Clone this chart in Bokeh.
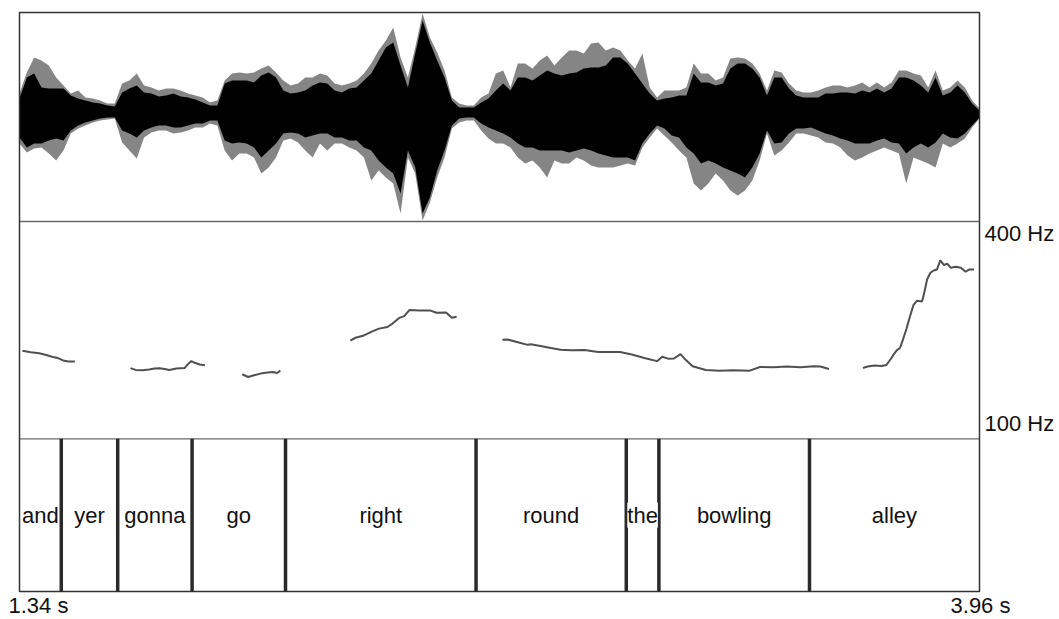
from bokeh.plotting import figure
from bokeh.models import Range1d, LabelSet, ColumnDataSource
from bokeh.core.properties import value
from bokeh.embed import file_html
from bokeh.resources import INLINE

# ---------------- data ----------------
T_START, T_END = 1.34, 3.96

# waveform envelope (amplitude, full scale ~ 1), one frame every 20 ms
env_t = [1.34, 1.36, 1.38, 1.40, 1.42, 1.44, 1.46, 1.48, 1.50, 1.52,
         1.54, 1.56, 1.58, 1.60, 1.62, 1.64, 1.66, 1.68, 1.70, 1.72,
         1.74, 1.76, 1.78, 1.80, 1.82, 1.84, 1.86, 1.88, 1.90, 1.92,
         1.94, 1.96, 1.98, 2.00, 2.02, 2.04, 2.06, 2.08, 2.10, 2.12,
         2.14, 2.16, 2.18, 2.20, 2.22, 2.24, 2.26, 2.28, 2.30, 2.32,
         2.34, 2.36, 2.38, 2.40, 2.42, 2.44, 2.46, 2.48, 2.50, 2.52,
         2.54, 2.56, 2.58, 2.60, 2.62, 2.64, 2.66, 2.68, 2.70, 2.72,
         2.74, 2.76, 2.78, 2.80, 2.82, 2.84, 2.86, 2.88, 2.90, 2.92,
         2.94, 2.96, 2.98, 3.00, 3.02, 3.04, 3.06, 3.08, 3.10, 3.12,
         3.14, 3.16, 3.18, 3.20, 3.22, 3.24, 3.26, 3.28, 3.30, 3.32,
         3.34, 3.36, 3.38, 3.40, 3.42, 3.44, 3.46, 3.48, 3.50, 3.52,
         3.54, 3.56, 3.58, 3.60, 3.62, 3.64, 3.66, 3.68, 3.70, 3.72,
         3.74, 3.76, 3.78, 3.80, 3.82, 3.84, 3.86, 3.88, 3.90, 3.92,
         3.94, 3.96]

peak_top = [0.19, 0.40, 0.55, 0.52, 0.47, 0.35, 0.27, 0.19, 0.22, 0.15,
            0.14, 0.12, 0.09, 0.09, 0.29, 0.32, 0.39, 0.27, 0.25, 0.22,
            0.24, 0.24, 0.22, 0.19, 0.17, 0.15, 0.10, 0.12, 0.32, 0.39,
            0.40, 0.39, 0.40, 0.44, 0.47, 0.40, 0.32, 0.27, 0.29, 0.35,
            0.35, 0.39, 0.37, 0.29, 0.27, 0.29, 0.32, 0.39, 0.49, 0.62,
            0.72, 0.85, 0.55, 0.35, 0.65, 0.99, 0.75, 0.60, 0.42, 0.15,
            0.09, 0.07, 0.07, 0.15, 0.19, 0.39, 0.42, 0.25, 0.49, 0.49,
            0.44, 0.52, 0.57, 0.47, 0.55, 0.62, 0.62, 0.59, 0.69, 0.70,
            0.62, 0.65, 0.62, 0.52, 0.44, 0.59, 0.25, 0.15, 0.22, 0.22,
            0.22, 0.25, 0.49, 0.39, 0.39, 0.32, 0.35, 0.54, 0.55, 0.54,
            0.49, 0.39, 0.22, 0.42, 0.40, 0.29, 0.22, 0.20, 0.20, 0.22,
            0.25, 0.27, 0.27, 0.25, 0.27, 0.30, 0.25, 0.30, 0.25, 0.30,
            0.42, 0.42, 0.39, 0.37, 0.25, 0.42, 0.22, 0.25, 0.32, 0.25,
            0.12, 0.04]

body_top = [0.14, 0.35, 0.39, 0.25, 0.24, 0.24, 0.24, 0.17, 0.14, 0.12,
            0.10, 0.09, 0.07, 0.06, 0.20, 0.24, 0.27, 0.20, 0.19, 0.16,
            0.17, 0.19, 0.16, 0.15, 0.13, 0.10, 0.07, 0.07, 0.29, 0.32,
            0.32, 0.32, 0.30, 0.37, 0.40, 0.35, 0.22, 0.19, 0.20, 0.22,
            0.27, 0.30, 0.29, 0.22, 0.20, 0.24, 0.25, 0.32, 0.39, 0.52,
            0.65, 0.70, 0.47, 0.25, 0.59, 0.92, 0.70, 0.52, 0.35, 0.12,
            0.05, 0.05, 0.05, 0.10, 0.14, 0.22, 0.29, 0.22, 0.35, 0.35,
            0.32, 0.37, 0.42, 0.39, 0.37, 0.39, 0.40, 0.44, 0.45, 0.45,
            0.47, 0.55, 0.55, 0.49, 0.39, 0.29, 0.19, 0.12, 0.14, 0.15,
            0.17, 0.17, 0.39, 0.30, 0.30, 0.27, 0.29, 0.44, 0.49, 0.49,
            0.44, 0.35, 0.17, 0.35, 0.35, 0.24, 0.17, 0.15, 0.15, 0.15,
            0.19, 0.19, 0.20, 0.20, 0.19, 0.22, 0.20, 0.24, 0.20, 0.24,
            0.35, 0.35, 0.32, 0.27, 0.20, 0.35, 0.17, 0.20, 0.27, 0.20,
            0.09, 0.02]

body_bot = [-0.25, -0.35, -0.31, -0.31, -0.28, -0.26, -0.28, -0.18, -0.13, -0.10,
            -0.08, -0.06, -0.05, -0.05, -0.18, -0.21, -0.25, -0.18, -0.15, -0.13,
            -0.13, -0.15, -0.15, -0.13, -0.11, -0.11, -0.08, -0.08, -0.28, -0.31,
            -0.30, -0.31, -0.35, -0.45, -0.38, -0.31, -0.21, -0.20, -0.21, -0.25,
            -0.23, -0.21, -0.21, -0.25, -0.25, -0.28, -0.28, -0.35, -0.38, -0.48,
            -0.55, -0.61, -0.81, -0.38, -0.55, -1.01, -0.85, -0.58, -0.38, -0.13,
            -0.06, -0.05, -0.05, -0.11, -0.15, -0.18, -0.21, -0.25, -0.31, -0.35,
            -0.35, -0.38, -0.38, -0.38, -0.38, -0.40, -0.38, -0.36, -0.38, -0.41,
            -0.43, -0.45, -0.45, -0.45, -0.48, -0.31, -0.21, -0.13, -0.16, -0.23,
            -0.25, -0.35, -0.41, -0.51, -0.48, -0.51, -0.55, -0.58, -0.61, -0.65,
            -0.55, -0.41, -0.18, -0.31, -0.30, -0.21, -0.16, -0.16, -0.15, -0.18,
            -0.21, -0.23, -0.26, -0.28, -0.31, -0.31, -0.31, -0.28, -0.26, -0.30,
            -0.31, -0.41, -0.35, -0.31, -0.35, -0.30, -0.21, -0.25, -0.26, -0.21,
            -0.13, -0.05]

peak_bot = [-0.31, -0.40, -0.36, -0.35, -0.41, -0.48, -0.38, -0.21, -0.16, -0.13,
            -0.10, -0.08, -0.07, -0.06, -0.30, -0.38, -0.46, -0.25, -0.20, -0.18,
            -0.18, -0.21, -0.20, -0.18, -0.15, -0.15, -0.11, -0.13, -0.38, -0.48,
            -0.41, -0.41, -0.45, -0.61, -0.55, -0.45, -0.28, -0.26, -0.30, -0.38,
            -0.45, -0.31, -0.38, -0.31, -0.31, -0.35, -0.38, -0.45, -0.68, -0.58,
            -0.65, -0.71, -1.01, -0.45, -0.61, -1.08, -0.90, -0.65, -0.45, -0.16,
            -0.10, -0.08, -0.08, -0.18, -0.26, -0.31, -0.31, -0.35, -0.45, -0.51,
            -0.48, -0.55, -0.65, -0.48, -0.51, -0.51, -0.45, -0.48, -0.53, -0.55,
            -0.55, -0.55, -0.53, -0.51, -0.53, -0.35, -0.25, -0.16, -0.23, -0.30,
            -0.38, -0.45, -0.71, -0.78, -0.71, -0.61, -0.68, -0.78, -0.83, -0.78,
            -0.68, -0.48, -0.21, -0.43, -0.38, -0.30, -0.21, -0.21, -0.23, -0.25,
            -0.30, -0.31, -0.35, -0.43, -0.48, -0.45, -0.41, -0.38, -0.35, -0.38,
            -0.41, -0.71, -0.45, -0.48, -0.51, -0.55, -0.31, -0.35, -0.31, -0.26,
            -0.15, -0.06]

# pitch contour segments (s, Hz)
f0_seg1_t = [1.348, 1.371, 1.394, 1.413, 1.431, 1.445, 1.459, 1.473, 1.491]
f0_seg1_hz = [221.7, 219.4, 218.0, 215.7, 212.9, 211.5, 208.2, 206.8, 206.8]
f0_seg2_t = [1.643, 1.657, 1.676, 1.694, 1.708, 1.722, 1.736, 1.749, 1.768,
             1.791, 1.800, 1.809, 1.818, 1.832, 1.846]
f0_seg2_hz = [197.5, 195.1, 194.7, 195.6, 197.0, 197.5, 196.5, 195.1, 197.0,
              197.9, 203.1, 207.3, 204.9, 202.6, 201.7]
f0_seg3_t = [1.948, 1.964, 1.980, 1.998, 2.017, 2.031, 2.043, 2.052]
f0_seg3_hz = [189.1, 185.3, 187.7, 190.0, 191.4, 192.3, 190.9, 194.2]
f0_seg4_t = [2.243, 2.257, 2.280, 2.303, 2.321, 2.344, 2.358, 2.377, 2.390,
             2.404, 2.432, 2.460, 2.478, 2.504, 2.520, 2.533]
f0_seg4_hz = [235.7, 239.5, 242.7, 248.3, 252.1, 254.4, 259.1, 267.0, 269.3,
              277.7, 277.3, 277.3, 274.0, 274.5, 267.0, 268.4]
f0_seg5_t = [2.658, 2.672, 2.700, 2.727, 2.735, 2.762, 2.790, 2.817, 2.845,
             2.882, 2.919, 2.979, 3.011, 3.048, 3.080, 3.094, 3.112, 3.126,
             3.144, 3.158, 3.177, 3.213, 3.250, 3.287, 3.333, 3.361, 3.398,
             3.434, 3.471, 3.508, 3.526, 3.549]
f0_seg5_hz = [236.7, 237.1, 233.4, 229.7, 230.4, 228.1, 225.3, 223.0, 222.1,
              222.5, 219.7, 219.7, 216.5, 211.3, 207.2, 213.2, 210.4, 210.9,
              216.9, 209.0, 200.2, 195.0, 194.1, 194.6, 194.1, 199.2, 198.8,
              199.7, 198.8, 200.2, 199.7, 196.4]
f0_seg6_t = [3.642, 3.655, 3.674, 3.692, 3.706, 3.715, 3.724, 3.734, 3.743,
             3.752, 3.761, 3.770, 3.780, 3.789, 3.803, 3.807, 3.817, 3.826,
             3.835, 3.844, 3.853, 3.863, 3.872, 3.881, 3.895, 3.909, 3.922,
             3.932, 3.945]
f0_seg6_hz = [197.8, 199.7, 201.1, 200.6, 202.0, 208.1, 215.1, 222.1, 225.3,
              238.4, 252.3, 268.6, 284.9, 290.5, 289.6, 296.6, 319.9, 329.2,
              332.4, 333.8, 346.4, 339.9, 341.8, 336.2, 337.6, 336.2, 330.6,
              333.8, 333.8]

# word tier
words = ["and", "yer", "gonna", "go", "right", "round", "the", "bowling", "alley"]
word_bounds = [1.34, 1.454, 1.608, 1.811, 2.066, 2.586, 2.996, 3.085, 3.496, 3.96]

PITCH_MIN, PITCH_MAX = 100, 400
WAVE_MIN, WAVE_MAX = -1.09, 1.0
time_labels = ["1.34 s", "3.96 s"]
pitch_labels = ["400 Hz", "100 Hz"]

# ---------------- layout (canvas pixels) ----------------
CANVAS_W, CANVAS_H = 1058, 618
X0_PX, X1_PX = 19, 979                       # left / right edge of the panels
Y_TOP, Y_WAVE, Y_PITCH, Y_BOT = 12, 221, 438.3, 591   # panel edges, top-down

kx = (T_END - T_START) / (X1_PX - X0_PX)
x_range = Range1d(T_START - X0_PX * kx, T_START + (CANVAS_W - X0_PX) * kx)


def y_range_for(v_top, v_bot, px_top, px_bot):
    k = (v_top - v_bot) / (px_bot - px_top)
    return Range1d(v_bot - (CANVAS_H - px_bot) * k, v_top + px_top * k), k


wave_range, kw = y_range_for(WAVE_MAX, WAVE_MIN, Y_TOP, Y_WAVE)
pitch_range, kp = y_range_for(PITCH_MAX, PITCH_MIN, Y_WAVE, Y_PITCH)
tier_range, kt = y_range_for(1.0, 0.0, Y_PITCH, Y_BOT)
TIER_TOP = 1.0 + (Y_PITCH - Y_TOP) * kt      # top edge of the whole box in tier units

FONT = "Liberation Sans"
TXT = "#111111"

p = figure(frame_width=CANVAS_W, frame_height=CANVAS_H,
           x_range=x_range, y_range=tier_range,
           x_axis_location=None, y_axis_location=None,
           output_backend="svg", toolbar_location=None,
           min_border=0)
p.extra_y_ranges = {"wave": wave_range, "pitch": pitch_range}
p.grid.grid_line_color = None
p.outline_line_color = None
p.background_fill_color = "white"
p.border_fill_color = "white"

# waveform
p.varea(x=env_t, y1=peak_bot, y2=peak_top, fill_color="#858585", y_range_name="wave")
p.varea(x=env_t, y1=body_bot, y2=body_top, fill_color="#000000", y_range_name="wave")

# pitch
p.multi_line(xs=[f0_seg1_t, f0_seg2_t, f0_seg3_t, f0_seg4_t, f0_seg5_t, f0_seg6_t],
             ys=[f0_seg1_hz, f0_seg2_hz, f0_seg3_hz, f0_seg4_hz, f0_seg5_hz, f0_seg6_hz],
             line_color="#505050", line_width=2, y_range_name="pitch")

# panel dividers
p.segment(x0=[T_START], y0=[WAVE_MIN], x1=[T_END], y1=[WAVE_MIN],
          line_color="#6a6a6a", line_width=1.3, y_range_name="wave")
p.segment(x0=[T_START], y0=[PITCH_MIN], x1=[T_END], y1=[PITCH_MIN],
          line_color="#6a6a6a", line_width=1.3, y_range_name="pitch")

# outer box
p.quad(left=[T_START], right=[T_END], bottom=[0], top=[TIER_TOP],
       fill_color=None, line_color="#333333", line_width=1.5)

# tier boundaries
inner = word_bounds[1:-1]
p.segment(x0=inner, y0=[0] * len(inner), x1=inner, y1=[1] * len(inner),
          line_color="#2a2a2a", line_width=3.5)

centers = [(a + b) / 2 for a, b in zip(word_bounds[:-1], word_bounds[1:])]
src = ColumnDataSource(dict(x=centers, y=[0.5] * len(words), text=words))
p.add_layout(LabelSet(x="x", y="y", text="text", source=src,
                      text_align="center", text_baseline="middle",
                      text_font=value(FONT), text_font_size="22px", text_color=TXT,
                      background_fill_color="white"))

# time labels below the box
t_lab_y = -(605.0 - Y_BOT) * kt
p.text(x=[T_START - 11 * kx, T_END + 1 * kx], y=[t_lab_y, t_lab_y], text=time_labels,
       text_align=["left", "center"], text_baseline="middle",
       text_font=value(FONT), text_font_size="22px", text_color=TXT)

# pitch range labels right of the box
p.text(x=[T_END + 5 * kx, T_END + 5 * kx],
       y=[PITCH_MAX - 11.6 * kp, PITCH_MIN + 15 * kp], text=pitch_labels,
       text_align="left", text_baseline="middle",
       text_font=value(FONT), text_font_size="22px", text_color=TXT,
       y_range_name="pitch")

open("out.html", "w").write(file_html(p, INLINE))
